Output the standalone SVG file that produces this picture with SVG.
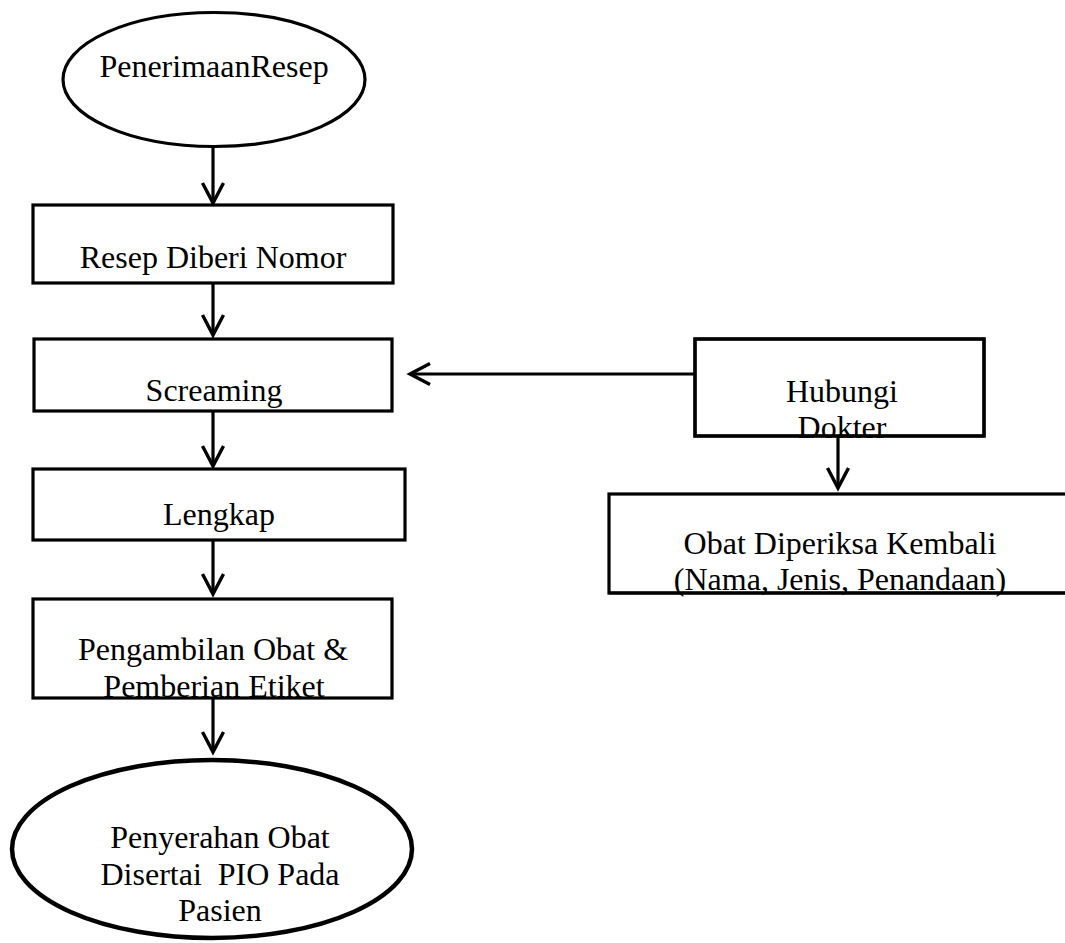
<svg xmlns="http://www.w3.org/2000/svg" width="1065" height="943" viewBox="0 0 1065 943">
<style>
.shape{fill:#fff;stroke:#000;stroke-width:3.2}
.thick{stroke-width:4.5}
.lbl{font-family:"Liberation Serif","Times New Roman",serif;font-size:32px;fill:#000;text-anchor:middle}
.conn{fill:none;stroke:#000;stroke-width:3.2}
</style>
<defs>
<marker id="arr" markerUnits="userSpaceOnUse" viewBox="-24 -14 28 28" markerWidth="28" markerHeight="28" refX="0" refY="0" orient="auto">
<path d="M-20,-10.5 L0,0 L-20,10.5" fill="none" stroke="#000" stroke-width="3.4"/>
</marker>
</defs>
<rect width="1065" height="943" fill="#fff"/>
<g id="n-penerimaan">
<ellipse class="shape" cx="214" cy="79.5" rx="151" ry="67"/>
<text class="lbl" x="214" y="77">PenerimaanResep</text>
</g>
<g id="n-resep">
<rect class="shape" x="33" y="205" width="360" height="78"/>
<text class="lbl" x="213" y="268">Resep Diberi Nomor</text>
</g>
<g id="n-screaming">
<rect class="shape" x="34" y="339" width="358" height="72"/>
<text class="lbl" x="214" y="401">Screaming</text>
</g>
<g id="n-lengkap">
<rect class="shape" x="33" y="469" width="372" height="71"/>
<text class="lbl" x="219" y="525">Lengkap</text>
</g>
<g id="n-pengambilan">
<text class="lbl" x="213" y="660">Pengambilan Obat &amp;</text>
<text class="lbl" x="214" y="697">Pemberian Etiket</text>
<rect class="shape" x="33" y="599" width="359" height="99" style="fill:none"/>
</g>
<g id="n-penyerahan">
<ellipse class="shape thick" cx="212" cy="849" rx="200" ry="89"/>
<text class="lbl" x="220" y="848">Penyerahan Obat</text>
<text class="lbl" x="220" y="885" xml:space="preserve">Disertai  PIO Pada</text>
<text class="lbl" x="220" y="921">Pasien</text>
</g>
<g id="n-hubungi">
<rect class="shape" x="695" y="339" width="289" height="97"/>
<text class="lbl" x="842" y="402">Hubungi</text>
<text class="lbl" x="842" y="438">Dokter</text>
<rect x="695" y="339" width="289" height="97" fill="none" stroke="#000" stroke-width="3.2"/>
</g>
<g id="n-obat">
<rect class="shape" x="609" y="494" width="466" height="99"/>
<text class="lbl" x="840" y="554">Obat Diperiksa Kembali</text>
<text class="lbl" x="840" y="590">(Nama, Jenis, Penandaan)</text>
<line x1="609" y1="593" x2="1075" y2="593" stroke="#000" stroke-width="3.2"/>
</g>
<g id="connectors">
<line class="conn" x1="213" y1="146" x2="213" y2="203" marker-end="url(#arr)"/>
<line class="conn" x1="213" y1="283" x2="213" y2="335" marker-end="url(#arr)"/>
<line class="conn" x1="213" y1="411" x2="213" y2="466" marker-end="url(#arr)"/>
<line class="conn" x1="213" y1="540" x2="213" y2="594" marker-end="url(#arr)"/>
<line class="conn" x1="213" y1="698" x2="213" y2="752" marker-end="url(#arr)"/>
<line class="conn" x1="695" y1="374" x2="410" y2="374" marker-end="url(#arr)"/>
<line class="conn" x1="838" y1="436" x2="838" y2="488" marker-end="url(#arr)"/>
</g>
</svg>
